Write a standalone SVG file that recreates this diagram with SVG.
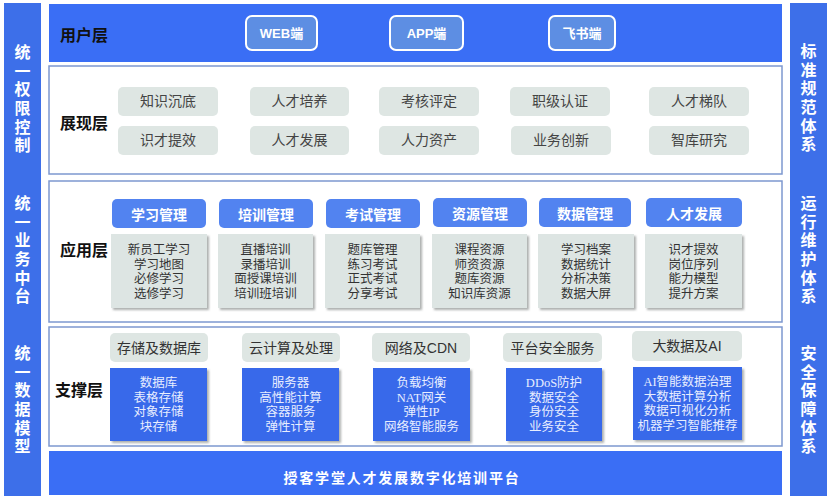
<svg xmlns="http://www.w3.org/2000/svg" width="831" height="500" viewBox="0 0 831 500">
<style>
.bg{fill:#ffffff}
.side{fill:#3d6fe9}
.sidet{font-family:"Noto Sans CJK SC","Liberation Sans",sans-serif;font-size:16px;font-weight:700;fill:#ffffff;text-anchor:middle;writing-mode:vertical-rl;letter-spacing:2.6px}
.band{fill:#3a6ef5}
.frame{fill:#ffffff;stroke:#7d98cf;stroke-width:1.5}
.lbl{font-family:"Noto Sans CJK SC","Liberation Sans",sans-serif;font-size:16px;font-weight:700;fill:#111111;dominant-baseline:central}
.btn{fill:#5d8ee3;stroke:#ffffff;stroke-width:2}
.btnt{font-family:"Liberation Sans","Noto Sans CJK SC",sans-serif;font-size:13px;font-weight:700;fill:#ffffff;text-anchor:middle;dominant-baseline:central}
.gbox{fill:#dee6e3}
.gt{font-family:"Liberation Serif","Noto Sans CJK SC",serif;font-size:14px;fill:#444444;text-anchor:middle;dominant-baseline:central}
.ght{font-family:"Liberation Sans","Noto Sans CJK SC",sans-serif;font-size:14px;fill:#333333;text-anchor:middle;dominant-baseline:central}
.hbox{fill:#5283f0}
.ht{font-family:"Noto Sans CJK SC","Liberation Sans",sans-serif;font-size:14px;font-weight:700;fill:#ffffff;text-anchor:middle;dominant-baseline:central}
.cbox{fill:#dde5e3;filter:url(#sh)}
.ct{font-family:"Liberation Serif","Noto Sans CJK SC",serif;font-size:12.5px;fill:#333333;text-anchor:middle;dominant-baseline:central}
.bbox{fill:#3769ea;filter:url(#sh)}
.bt{font-family:"Liberation Serif","Noto Sans CJK SC",serif;font-size:12.5px;fill:#e8eeff;text-anchor:middle;dominant-baseline:central}
.plat{font-family:"Noto Sans CJK SC","Liberation Sans",sans-serif;font-size:14px;font-weight:700;fill:#ffffff;text-anchor:middle;dominant-baseline:central;letter-spacing:1.8px}
</style>
<defs>
<filter id="sh" x="-10%" y="-10%" width="125%" height="125%">
<feDropShadow dx="2" dy="2" stdDeviation="1" flood-color="#8a8f8e" flood-opacity="0.7"/>
</filter>
</defs>
<rect class="bg" x="0" y="0" width="831" height="500"/>

<g id="left-bar">
<rect class="side" x="4" y="3" width="37" height="493"/>
<text id="left-auth" class="sidet" x="22.5" y="100">统一权限控制</text>
<text id="left-biz" class="sidet" x="22.5" y="251">统一业务中台</text>
<text id="left-data" class="sidet" x="22.5" y="401">统一数据模型</text>
</g>

<g id="right-bar">
<rect class="side" x="790" y="3" width="37" height="493"/>
<text id="right-std" class="sidet" x="808.5" y="99">标准规范体系</text>
<text id="right-ops" class="sidet" x="808.5" y="251">运行维护体系</text>
<text id="right-sec" class="sidet" x="808.5" y="401">安全保障体系</text>
</g>

<g id="user-layer">
<rect class="band" x="49" y="4" width="733" height="58"/>
<text class="lbl" x="60" y="34">用户层</text>
<g id="web"><rect class="btn" x="246" y="16" width="71" height="34" rx="6"/><text class="btnt" x="281.5" y="33">WEB端</text></g>
<g id="app"><rect class="btn" x="390" y="16" width="73" height="34" rx="6"/><text class="btnt" x="426.5" y="33">APP端</text></g>
<g id="feishu"><rect class="btn" x="549" y="16" width="66" height="34" rx="6"/><text class="btnt" x="582" y="33">飞书端</text></g>
</g>

<g id="display-layer">
<rect class="frame" x="49" y="66" width="733" height="108"/>
<text class="lbl" x="60" y="122">展现层</text>
<g id="d1"><rect class="gbox" x="118" y="87" width="100" height="29" rx="5"/><text class="gt" x="168" y="101.5">知识沉底</text></g>
<g id="d2"><rect class="gbox" x="250" y="87" width="99" height="29" rx="5"/><text class="gt" x="299.5" y="101.5">人才培养</text></g>
<g id="d3"><rect class="gbox" x="379" y="87" width="100" height="29" rx="5"/><text class="gt" x="429" y="101.5">考核评定</text></g>
<g id="d4"><rect class="gbox" x="510" y="87" width="100" height="29" rx="5"/><text class="gt" x="560" y="101.5">职级认证</text></g>
<g id="d5"><rect class="gbox" x="649" y="87" width="100" height="29" rx="5"/><text class="gt" x="699" y="101.5">人才梯队</text></g>
<g id="d6"><rect class="gbox" x="118" y="126" width="100" height="29" rx="5"/><text class="gt" x="168" y="140.5">识才提效</text></g>
<g id="d7"><rect class="gbox" x="250" y="126" width="99" height="29" rx="5"/><text class="gt" x="299.5" y="140.5">人才发展</text></g>
<g id="d8"><rect class="gbox" x="379" y="126" width="100" height="29" rx="5"/><text class="gt" x="429" y="140.5">人力资产</text></g>
<g id="d9"><rect class="gbox" x="511" y="126" width="100" height="29" rx="5"/><text class="gt" x="561" y="140.5">业务创新</text></g>
<g id="d10"><rect class="gbox" x="649" y="126" width="100" height="29" rx="5"/><text class="gt" x="699" y="140.5">智库研究</text></g>
</g>

<g id="app-layer">
<rect class="frame" x="49" y="181" width="733" height="141"/>
<text class="lbl" x="60" y="249">应用层</text>
<g id="a1">
<rect class="hbox" x="112" y="199" width="94" height="29" rx="5"/><text class="ht" x="159" y="213.5">学习管理</text>
<rect class="cbox" x="111" y="234" width="96" height="74"/>
<text class="ct" x="159" y="250">新员工学习<tspan x="159" dy="14.7">学习地图</tspan><tspan x="159" dy="14.7">必修学习</tspan><tspan x="159" dy="14.7">选修学习</tspan></text>
</g>
<g id="a2">
<rect class="hbox" x="219" y="199" width="94" height="29" rx="5"/><text class="ht" x="266" y="213.5">培训管理</text>
<rect class="cbox" x="218" y="234" width="95" height="74"/>
<text class="ct" x="265.5" y="250">直播培训<tspan x="265.5" dy="14.7">录播培训</tspan><tspan x="265.5" dy="14.7">面授课培训</tspan><tspan x="265.5" dy="14.7">培训班培训</tspan></text>
</g>
<g id="a3">
<rect class="hbox" x="326" y="199" width="94" height="29" rx="5"/><text class="ht" x="373" y="213.5">考试管理</text>
<rect class="cbox" x="325" y="234" width="95" height="74"/>
<text class="ct" x="372.5" y="250">题库管理<tspan x="372.5" dy="14.7">练习考试</tspan><tspan x="372.5" dy="14.7">正式考试</tspan><tspan x="372.5" dy="14.7">分享考试</tspan></text>
</g>
<g id="a4">
<rect class="hbox" x="433" y="198" width="94" height="29" rx="5"/><text class="ht" x="480" y="212.5">资源管理</text>
<rect class="cbox" x="432" y="234" width="95" height="74"/>
<text class="ct" x="479.5" y="250">课程资源<tspan x="479.5" dy="14.7">师资资源</tspan><tspan x="479.5" dy="14.7">题库资源</tspan><tspan x="479.5" dy="14.7">知识库资源</tspan></text>
</g>
<g id="a5">
<rect class="hbox" x="539" y="198" width="92" height="29" rx="5"/><text class="ht" x="585" y="212.5">数据管理</text>
<rect class="cbox" x="538" y="234" width="96" height="74"/>
<text class="ct" x="586" y="250">学习档案<tspan x="586" dy="14.7">数据统计</tspan><tspan x="586" dy="14.7">分析决策</tspan><tspan x="586" dy="14.7">数据大屏</tspan></text>
</g>
<g id="a6">
<rect class="hbox" x="646" y="198" width="96" height="29" rx="5"/><text class="ht" x="694" y="212.5">人才发展</text>
<rect class="cbox" x="645" y="234" width="97" height="74"/>
<text class="ct" x="693.5" y="250">识才提效<tspan x="693.5" dy="14.7">岗位序列</tspan><tspan x="693.5" dy="14.7">能力模型</tspan><tspan x="693.5" dy="14.7">提升方案</tspan></text>
</g>
</g>

<g id="support-layer">
<rect class="frame" x="49" y="327" width="733" height="119"/>
<text class="lbl" x="55" y="389">支撑层</text>
<g id="s1">
<rect class="gbox" x="110" y="333" width="98" height="29" rx="5"/><text class="ght" x="159" y="347.5">存储及数据库</text>
<rect class="bbox" x="110" y="368" width="97" height="73"/>
<text class="bt" x="158.5" y="383">数据库<tspan x="158.5" dy="14.7">表格存储</tspan><tspan x="158.5" dy="14.7">对象存储</tspan><tspan x="158.5" dy="14.7">块存储</tspan></text>
</g>
<g id="s2">
<rect class="gbox" x="242" y="333" width="98" height="29" rx="5"/><text class="ght" x="291" y="347.5">云计算及处理</text>
<rect class="bbox" x="242" y="368" width="97" height="73"/>
<text class="bt" x="290.5" y="383">服务器<tspan x="290.5" dy="14.7">高性能计算</tspan><tspan x="290.5" dy="14.7">容器服务</tspan><tspan x="290.5" dy="14.7">弹性计算</tspan></text>
</g>
<g id="s3">
<rect class="gbox" x="372" y="333" width="98" height="29" rx="5"/><text class="ght" x="421" y="347.5">网络及CDN</text>
<rect class="bbox" x="373" y="368" width="97" height="73"/>
<text class="bt" x="421.5" y="383">负载均衡<tspan x="421.5" dy="14.7">NAT网关</tspan><tspan x="421.5" dy="14.7">弹性IP</tspan><tspan x="421.5" dy="14.7">网络智能服务</tspan></text>
</g>
<g id="s4">
<rect class="gbox" x="503" y="333" width="99" height="29" rx="5"/><text class="ght" x="552.5" y="347.5">平台安全服务</text>
<rect class="bbox" x="506" y="368" width="96" height="73"/>
<text class="bt" x="554" y="383">DDoS防护<tspan x="554" dy="14.7">数据安全</tspan><tspan x="554" dy="14.7">身份安全</tspan><tspan x="554" dy="14.7">业务安全</tspan></text>
</g>
<g id="s5">
<rect class="gbox" x="632" y="331" width="110" height="30" rx="5"/><text class="ght" x="687" y="346">大数据及AI</text>
<rect class="bbox" x="633" y="367" width="109" height="73"/>
<text class="bt" x="687.5" y="382">AI智能数据治理<tspan x="687.5" dy="14.7">大数据计算分析</tspan><tspan x="687.5" dy="14.7">数据可视化分析</tspan><tspan x="687.5" dy="14.7">机器学习智能推荐</tspan></text>
</g>
</g>

<g id="platform">
<rect class="band" x="49" y="451" width="733" height="44"/>
<text class="plat" x="402" y="477">授客学堂人才发展数字化培训平台</text>
</g>

<g id="connectors"></g>
</svg>
